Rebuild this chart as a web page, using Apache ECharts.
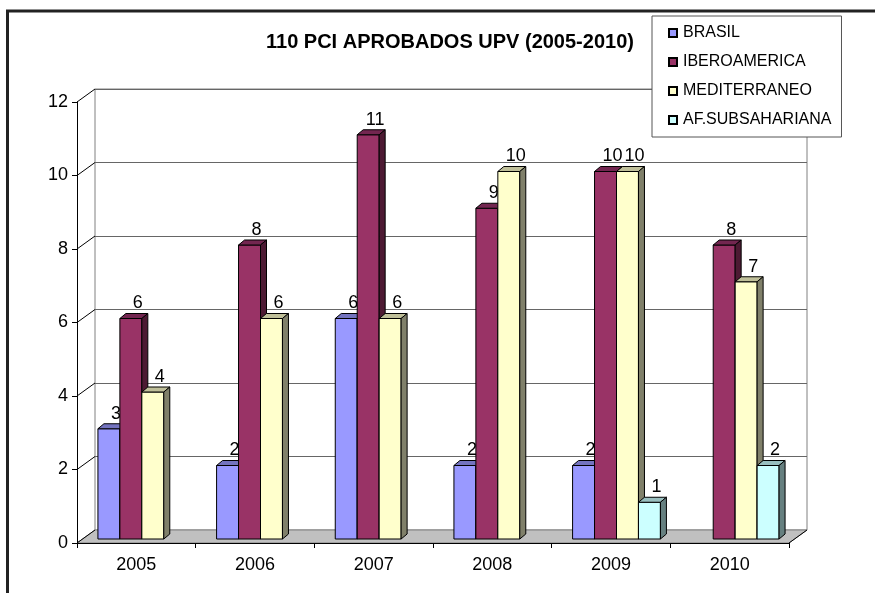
<!DOCTYPE html>
<html>
<head>
    <meta charset="UTF-8">
    <title>110 PCI APROBADOS UPV</title>
    <script src="https://cdn.jsdelivr.net/npm/echarts@6/dist/echarts.min.js"></script>
    <style>
        html, body { margin: 0; padding: 0; background: #fff; }
        #chart { width: 875px; height: 593px; }
    </style>
</head>
<body>
    <div id="chart"></div>

    <script>
        // data
        var years = ['2005', '2006', '2007', '2008', '2009', '2010'];
        var brasil = [3, 2, 6, 2, 2, null];
        var iberoamerica = [6, 8, 11, 9, 10, 8];
        var mediterraneo = [4, 6, 6, 10, 10, 7];
        var subsahariana = [null, null, null, null, 1, 2];
        var yTicks = [0, 2, 4, 6, 8, 10, 12];

        var seriesNames = ['BRASIL', 'IBEROAMERICA', 'MEDITERRANEO', 'AF.SUBSAHARIANA'];
        var seriesValues = [brasil, iberoamerica, mediterraneo, subsahariana];
        // front, top, side colours
        var faceColors = [
            ['#9999FF', '#7373BF', '#4D4D80'],
            ['#993366', '#732650', '#4D1A33'],
            ['#FFFFCC', '#BFBF99', '#80806A'],
            ['#CCFFFF', '#99BFBF', '#668080']
        ];

        var FONT = 'Liberation Sans, Arial, sans-serif';
        var WALL_DX = 18, WALL_DY = -13;   // depth of the floor / walls
        var BAR_DX = 5.5, BAR_DY = -4;     // bar front plane inside the floor
        var TOP_DX = 6, TOP_DY = -5;       // depth of one bar

        var chart = echarts.init(document.getElementById('chart'), null, {renderer: 'canvas'});

        function barRenderer(k) {
            return function (params, api) {
                var i = api.value(0);
                var v = api.value(1);
                var base = api.coord([i, 0]);
                var top = api.coord([i, v]);
                var barW = api.size([1, 0])[0] * 0.185;
                var x0 = base[0] - 2 * barW + k * barW + BAR_DX;
                var yb = base[1] + BAR_DY;
                var yt = top[1] + BAR_DY;
                var c = faceColors[k];
                var line = {stroke: '#000', lineWidth: 1};
                return {
                    type: 'group',
                    children: [
                        {type: 'rect', shape: {x: x0, y: yt, width: barW, height: yb - yt},
                         style: Object.assign({fill: c[0]}, line)},
                        {type: 'polygon', shape: {points: [[x0, yt], [x0 + barW, yt], [x0 + barW + TOP_DX, yt + TOP_DY], [x0 + TOP_DX, yt + TOP_DY]]},
                         style: Object.assign({fill: c[1]}, line)},
                        {type: 'polygon', shape: {points: [[x0 + barW, yt], [x0 + barW + TOP_DX, yt + TOP_DY], [x0 + barW + TOP_DX, yb + TOP_DY], [x0 + barW, yb]]},
                         style: Object.assign({fill: c[2]}, line)},
                        {type: 'text', x: x0 + barW / 2 + 7, y: yt - 15,
                         style: {text: String(v), fill: '#000', font: '18px ' + FONT, align: 'center', verticalAlign: 'middle'}}
                    ]
                };
            };
        }

        var barSeries = seriesNames.map(function (name, k) {
            var data = [];
            seriesValues[k].forEach(function (v, i) {
                if (v !== null) data.push([i, v]);
            });
            return {
                name: name,
                type: 'custom',
                xAxisIndex: 0,
                yAxisIndex: 0,
                z: 3 + k,
                itemStyle: {color: faceColors[k][0], borderColor: '#000', borderWidth: 1},
                renderItem: barRenderer(k),
                data: data
            };
        });

        var option = {
            animation: false,
            backgroundColor: '#fff',
            title: {
                text: '110 PCI APROBADOS UPV (2005-2010)',
                left: 266,
                top: 32,
                padding: 0,
                textStyle: {fontFamily: FONT, fontSize: 20, fontWeight: 'bold', color: '#000'}
            },
            legend: {
                data: seriesNames,
                orient: 'vertical',
                left: 652,
                top: 16,
                padding: [9, 10, 9, 16],
                itemGap: 13,
                itemWidth: 8,
                itemHeight: 8,
                icon: 'rect',
                borderColor: '#555',
                borderWidth: 1,
                backgroundColor: '#fff',
                textStyle: {fontFamily: FONT, fontSize: 16, color: '#000', lineHeight: 16, padding: [0, 0, 0, 1]}
            },
            graphic: [{
                type: 'rect',
                shape: {x: 7.5, y: 11, width: 1000, height: 1000},
                style: {fill: 'none', stroke: '#222', lineWidth: 3},
                silent: true
            }],
            grid: [
                {left: 77, right: 86, top: 102, bottom: 50},
                {left: 95, right: 68, top: 89, bottom: 63, show: true, borderColor: '#808080', borderWidth: 1, backgroundColor: '#fff', z: 0}
            ],
            xAxis: [
                {
                    type: 'category', gridIndex: 0, data: years, boundaryGap: true, z: 10,
                    axisLine: {lineStyle: {color: '#000', width: 1}},
                    axisTick: {show: true, length: 5, lineStyle: {color: '#000'}},
                    axisLabel: {fontFamily: FONT, fontSize: 18, color: '#000', margin: 13},
                    splitLine: {show: false}
                },
                {
                    type: 'category', gridIndex: 1, data: years, show: false
                }
            ],
            yAxis: [
                {
                    type: 'value', gridIndex: 0, min: 0, max: 12, interval: 2, z: 10,
                    axisLine: {show: true, lineStyle: {color: '#000', width: 1}},
                    axisTick: {show: true, length: 5, lineStyle: {color: '#000'}},
                    axisLabel: {fontFamily: FONT, fontSize: 18, color: '#000', margin: 9},
                    splitLine: {show: false}
                },
                {
                    type: 'value', gridIndex: 1, min: 0, max: 12, interval: 2,
                    axisLine: {show: false}, axisTick: {show: false}, axisLabel: {show: false},
                    splitLine: {show: true, lineStyle: {color: '#666', width: 1}}
                }
            ],
            series: [
                {
                    // floor of the 3D plot
                    name: 'floor',
                    type: 'custom',
                    xAxisIndex: 0, yAxisIndex: 0, z: 1, silent: true,
                    renderItem: function (params, api) {
                        var cs = params.coordSys;
                        var y = cs.y + cs.height;
                        var xl = cs.x, xr = cs.x + cs.width;
                        return {
                            type: 'group',
                            children: [
                                {type: 'polygon', shape: {points: [[xl, y], [xr, y], [xr + WALL_DX, y + WALL_DY], [xl + WALL_DX, y + WALL_DY]]},
                                 style: {fill: '#C0C0C0', stroke: '#808080', lineWidth: 1}},
                                {type: 'line', shape: {x1: xr, y1: y, x2: xr + WALL_DX, y2: y + WALL_DY},
                                 style: {stroke: '#000', lineWidth: 1}}
                            ]
                        };
                    },
                    data: [[0, 0]]
                },
                {
                    // diagonals from the value ticks to the back wall
                    name: 'depth',
                    type: 'custom',
                    xAxisIndex: 0, yAxisIndex: 0, z: 2, silent: true,
                    renderItem: function (params, api) {
                        var cs = params.coordSys;
                        var p = api.coord([0, api.value(0)]);
                        return {type: 'line', shape: {x1: cs.x, y1: p[1], x2: cs.x + WALL_DX, y2: p[1] + WALL_DY},
                                style: {stroke: '#000', lineWidth: 1}};
                    },
                    encode: {y: 0},
                    data: yTicks.map(function (t) { return [t]; })
                }
            ].concat(barSeries)
        };

        chart.setOption(option);
    </script>
</body>
</html>
